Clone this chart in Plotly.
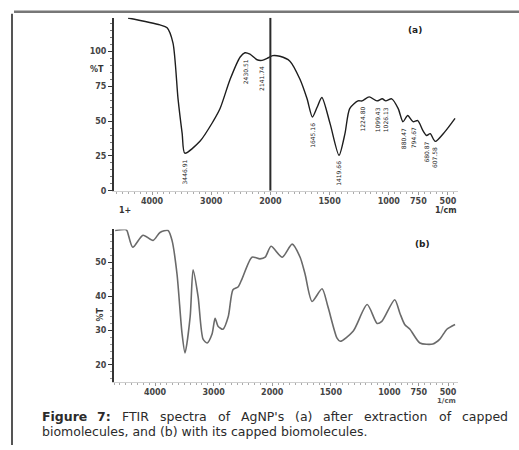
import plotly.graph_objects as go

# ---------------- data ----------------
# Panel (a): FTIR after extraction of capped biomolecules
wn_a = [4405, 3865, 3745, 3645, 3560, 3490, 3446, 3190, 2970, 2850, 2680, 2510,
        2430, 2345, 2225, 2140, 2055, 1980, 1920, 1835, 1750, 1690, 1645, 1605,
        1565, 1495, 1420, 1370, 1330, 1260, 1225, 1165, 1100, 1055, 1025, 975,
        920, 880, 840, 795, 755, 710, 680, 650, 607, 525, 440]
t_a = [124, 119, 117, 106, 66, 41, 27, 35.5, 49.6, 59, 80, 96,
       99, 98, 94, 93.6, 95, 97, 96.5, 93, 80, 66, 53, 60,
       67, 48, 25.5, 41, 59, 64.5, 64.5, 67.4, 64.5, 66, 64.5, 66,
       59, 49.6, 54, 49.6, 50.4, 43, 39.7, 41, 35.5, 42.5, 52]

# labelled peaks of panel (a)
peak_wn = [3446, 2430, 2140, 1645, 1420, 1225, 1100, 1025, 880, 795, 680, 607]
peak_t = [27, 99, 93.6, 53, 25.5, 64.5, 64.5, 64.5, 49.6, 49.6, 39.7, 35.5]
peak_txt = ["3446.91", "2430.51", "2141.74", "1645.16", "1419.66", "1224.80",
            "1099.43", "1026.13", "880.47", "794.67", "680.87", "607.58"]

# Panel (b): FTIR with capped biomolecules
wn_b = [4680, 4510, 4480, 4380, 4205, 4034, 3915, 3778, 3710, 3625, 3540, 3488,
        3400, 3350, 3265, 3180, 3110, 3027, 2975, 2925, 2840, 2750, 2670, 2580,
        2515, 2345, 2210, 2120, 2020, 1915, 1830, 1762, 1720, 1660, 1575, 1525,
        1447, 1420, 1310, 1190, 1105, 1065, 955, 910, 870, 825, 740, 630,
        570, 510, 440]
t_b = [59.2, 59.5, 59.2, 54.3, 57.8, 56.3, 58.6, 59.2, 56.3, 46.5, 29.3, 23.5,
       34.1, 47.7, 39.9, 27.5, 26.4, 29, 33.6, 31.3, 30.4, 34.1, 41.9, 42.8,
       45.1, 51.4, 50.9, 51.4, 54.6, 51.4, 55.2, 51.4, 46.5, 38.5, 42.2, 37,
       27.8, 26.9, 29.8, 37.6, 32.1, 32.7, 39, 35, 31.8, 30.4, 26.4, 26.1,
       27.5, 30.4, 31.8]

x_ticks_wn = [4000, 3000, 2000, 1500, 1000, 750, 500]
x_tick_txt = ["4000", "3000", "2000", "1500", "1000", "750", "500"]
ya_ticks = [0, 25, 50, 75, 100]
yb_ticks = [20, 30, 40, 50]

caption1 = ["<b>Figure</b>", "<b>7:</b>", "FTIR", "spectra", "of", "AgNP's", "(a)",
            "after", "extraction", "of", "capped"]
caption2 = "biomolecules, and (b) with its capped biomolecules."


# ---------------- helpers ----------------
def u_of(wn):
    # Shimadzu-style axis: 2x expansion below 2000 1/cm
    return (4000 - wn) / 1000 if wn >= 2000 else 2 + (2000 - wn) / 500


W, H = 519, 450


def px(x):
    return x / W


def py(y):
    return 1 - y / H


AX = "#333333"
FONT = "DejaVu Sans"

fig = go.Figure()
fig.add_trace(go.Scatter(x=[u_of(w) for w in wn_a], y=t_a, mode="lines",
                         line=dict(color="#1e1e1e", width=1.4, shape="spline", smoothing=0.7),
                         xaxis="x", yaxis="y", showlegend=False, hoverinfo="skip"))
fig.add_trace(go.Scatter(x=[u_of(w) for w in wn_b], y=t_b, mode="lines",
                         line=dict(color="#6a6a6a", width=1.6, shape="spline", smoothing=0.7),
                         xaxis="x2", yaxis="y2", showlegend=False, hoverinfo="skip"))

tickfont = dict(family=FONT, size=8, color="#444", weight="bold")
xcommon = dict(tickvals=[u_of(w) for w in x_ticks_wn], ticktext=x_tick_txt,
               ticks="outside", ticklen=3, tickcolor="#999", showgrid=False, zeroline=False,
               showline=True, linecolor="#cfcfcf", linewidth=1, tickfont=tickfont,
               minor=dict(dtick=0.1, tick0=0, ticks="outside", ticklen=2, tickcolor="#aaa"))
ycommon = dict(ticks="outside", ticklen=4, tickcolor=AX, showgrid=False, zeroline=False,
               showline=True, linecolor=AX, linewidth=2, tickfont=tickfont)

fig.update_layout(
    width=W, height=H, margin=dict(l=0, r=0, t=0, b=0),
    paper_bgcolor="white", plot_bgcolor="white",
    xaxis=dict(domain=[px(114), px(458)], range=[-0.642, 5.17], anchor="y", **xcommon),
    yaxis=dict(domain=[py(193), py(18)], range=[0, 124.1], anchor="x",
               tickvals=ya_ticks, minor=dict(dtick=5, ticks="outside", ticklen=2, tickcolor="#777"),
               **ycommon),
    xaxis2=dict(domain=[px(114), px(458)], range=[-0.70, 5.17], anchor="y2", **xcommon),
    yaxis2=dict(domain=[py(386), py(232)], range=[15.1, 59.5], anchor="x2",
                tickvals=yb_ticks, minor=dict(dtick=2, ticks="outside", ticklen=2, tickcolor="#999"),
                **ycommon),
)

# vertical break line at 2000 in panel (a)
fig.add_shape(type="line", xref="x", yref="y", x0=u_of(2000), x1=u_of(2000), y0=0, y1=124.1,
              line=dict(color="#2a2a2a", width=2))

# page border (scanned figure frame)
fig.add_shape(type="line", xref="paper", yref="paper", x0=px(12), x1=px(12), y0=0, y1=py(14),
              line=dict(color="#555", width=2))
fig.add_shape(type="line", xref="paper", yref="paper", x0=px(14), x1=1, y0=py(12), y1=py(12),
              line=dict(color="#777", width=2.5))

# peak labels
for w, t, s in zip(peak_wn, peak_t, peak_txt):
    fig.add_annotation(x=u_of(w), y=t, xref="x", yref="y", text=s, showarrow=False,
                       textangle=-90, xanchor="center", yanchor="top", yshift=-4,
                       font=dict(family=FONT, size=6, color="#222"))

ann_font = dict(family=FONT, size=8, color="#333", weight="bold")
fig.add_annotation(x=px(97), y=py(70), xref="paper", yref="paper", text="%T", showarrow=False,
                   font=ann_font, xanchor="center", yanchor="middle")
fig.add_annotation(x=px(100), y=py(318), xref="paper", yref="paper", text="%T", showarrow=False,
                   textangle=-90, font=ann_font, xanchor="center", yanchor="middle")
fig.add_annotation(x=px(125), y=py(213), xref="paper", yref="paper", text="1+", showarrow=False,
                   font=ann_font, xanchor="center", yanchor="middle")
fig.add_annotation(x=px(446), y=py(213), xref="paper", yref="paper", text="1/cm", showarrow=False,
                   font=ann_font, xanchor="center", yanchor="middle")
fig.add_annotation(x=px(446), y=py(405), xref="paper", yref="paper", text="1/cm", showarrow=False,
                   font=dict(family=FONT, size=7, color="#555", weight="bold"),
                   xanchor="center", yanchor="middle")
fig.add_annotation(x=px(415), y=py(30), xref="paper", yref="paper", text="(a)", showarrow=False,
                   font=dict(family=FONT, size=9, color="#222", weight="bold"),
                   xanchor="center", yanchor="middle")
fig.add_annotation(x=px(422), y=py(247), xref="paper", yref="paper", text="(b)", showarrow=False,
                   font=dict(family=FONT, size=9, color="#222", weight="bold"),
                   xanchor="center", yanchor="middle")

# caption: justified first line
CW = {'a': 613, 'b': 635, 'c': 550, 'd': 635, 'e': 615, 'f': 352, 'g': 635, 'h': 634, 'i': 278,
      'k': 579, 'l': 278, 'm': 974, 'n': 634, 'o': 612, 'p': 635, 'r': 411, 's': 521, 't': 392,
      'u': 634, 'w': 818, 'x': 592, 'A': 684, 'F': 575, 'G': 775, 'I': 295, 'N': 748, 'P': 603,
      'R': 695, 'T': 611, "'": 275, '(': 390, ')': 390, ':': 337, ',': 318, '.': 318, '7': 636}
CAP_SIZE = 12.5


def word_w(wd):
    bold = wd.startswith("<b>")
    s = wd.replace("<b>", "").replace("</b>", "")
    return sum(CW.get(c, 600) for c in s) / 1000 * CAP_SIZE * (1.12 if bold else 1.0)


widths = [word_w(wd) for wd in caption1]
x_start, x_end = 40, 506
gap = (x_end - x_start - sum(widths)) / (len(caption1) - 1)
xc = x_start
for wd, ww in zip(caption1, widths):
    fig.add_annotation(x=px(xc), y=py(421), xref="paper", yref="paper", text=wd, showarrow=False,
                       xanchor="left", yanchor="middle",
                       font=dict(family=FONT, size=CAP_SIZE, color="#2b2b2b"))
    xc += ww + gap
fig.add_annotation(x=px(40), y=py(436), xref="paper", yref="paper", text=caption2, showarrow=False,
                   xanchor="left", yanchor="middle",
                   font=dict(family=FONT, size=CAP_SIZE, color="#2b2b2b"))

fig.write_html("out.html")
